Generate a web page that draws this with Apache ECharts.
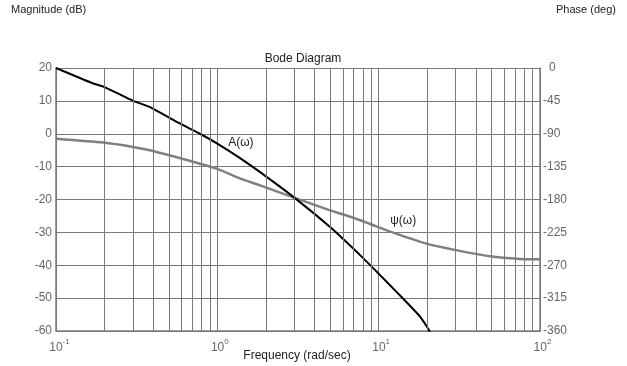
<!DOCTYPE html>
<html>
<head>
<meta charset="utf-8">
<script src="https://cdn.jsdelivr.net/npm/echarts@6/dist/echarts.min.js"></script>
<style>
  html, body { margin: 0; padding: 0; background: #fff; }
  #main { width: 627px; height: 366px; }
</style>
</head>
<body>
<div id="main"></div>
<script>
// magnitude curve A(w), dB
var magFreq = [0.1, 0.17, 0.2, 0.301, 0.383, 0.56, 0.78, 1.0, 1.39, 2.02, 2.96, 5.0, 8.04, 10.2, 12.9, 18.1, 20.8];
var magDb   = [20, 15.3, 14.2, 10.0, 8.1, 3.6, 0.0, -3.0, -7.5, -13.1, -19.2, -28.4, -37.9, -43, -48.1, -55.7, -60.2];
// phase curve psi(w), deg
var phaseFreq = [0.1, 0.196, 0.3, 0.383, 0.78, 1.0, 1.39, 1.84, 2.96, 5.0, 6.97, 8.85, 12.3, 19.8, 29.1, 49, 75, 100];
var phaseDeg  = [-96.7, -102, -108, -112.7, -131, -138, -151.4, -160.6, -177, -194.8, -205, -213.5, -225.3, -240.4, -248.6, -257.8, -261.5, -261.9];
// minor vertical grid lines of the log axis
var minorFreq = [0.2, 0.3, 0.4, 0.5, 0.6, 0.7, 0.8, 0.9, 2, 3, 4, 5, 6, 7, 8, 9, 20, 30, 40, 50, 60, 70, 80, 90];
var expLabels = { '0.1': '-1', '1': '0', '10': '1', '100': '2' };

var gridColor = '#7a7a7a';
var labelColor = '#666';
var font = 'Liberation Sans, Arial, sans-serif';

function pairs(xs, ys) {
  return xs.map(function(x, i) { return [x, ys[i]]; });
}

var myChart = echarts.init(document.getElementById('main'));
var option = {
  animation: false,
  textStyle: { fontFamily: font },
  title: [
    {
      text: 'Bode Diagram',
      left: 298, top: 48, textAlign: 'center',
      textStyle: { fontSize: 12, fontWeight: 'normal', color: '#222', fontFamily: font }
    },
    {
      // x axis name, placed as a title so the label rich text does not push it
      text: 'Frequency (rad/sec)',
      left: 292, top: 345, textAlign: 'center',
      textStyle: { fontSize: 12, fontWeight: 'normal', color: '#222', fontFamily: font }
    }
  ],
  grid: { left: 56, right: 87, top: 68, bottom: 35, outerBoundsMode: 'none', containLabel: false },
  xAxis: {
    type: 'log', logBase: 10, min: 0.1, max: 100,
    axisLine: { show: true, onZero: false, lineStyle: { color: gridColor, width: 1.5 } },
    axisTick: { show: false },
    splitLine: { show: true, lineStyle: { color: gridColor, width: 1 } },
    axisLabel: {
      margin: 2,
      formatter: function(v) {
        var e = expLabels[String(+v.toPrecision(3))];
        return '{' + (e.length > 1 ? 'b2' : 'b1') + '|10}{s|' + e + '}';
      },
      rich: {
        b1: { fontSize: 12, color: labelColor, fontFamily: font, padding: [9, 0, 0, 5] },
        b2: { fontSize: 12, color: labelColor, fontFamily: font, padding: [9, 0, 0, 7] },
        s: { fontSize: 8, color: labelColor, fontFamily: font, padding: [0, 0, 4, 0] }
      }
    }
  },
  yAxis: [
    {
      type: 'value', min: -60, max: 20, interval: 10,
      name: 'Magnitude (dB)', nameLocation: 'end',
      nameTextStyle: { fontSize: 11, color: '#222', align: 'left', padding: [0, 0, 38, -45], fontFamily: font },
      axisLine: { show: true, lineStyle: { color: gridColor, width: 1.5 } },
      axisTick: { show: false },
      splitLine: { show: true, lineStyle: { color: gridColor, width: 1 } },
      axisLabel: { fontSize: 12, color: labelColor, margin: 4, fontFamily: font }
    },
    {
      type: 'value', min: -360, max: 0, interval: 45, position: 'right',
      name: 'Phase (deg)', nameLocation: 'end',
      nameTextStyle: { fontSize: 11, color: '#222', align: 'left', padding: [0, 0, 38, 16], fontFamily: font },
      axisLine: { show: true, lineStyle: { color: gridColor, width: 1.5 } },
      axisTick: { show: false },
      splitLine: { show: false },
      axisLabel: {
        fontSize: 12, color: labelColor, margin: 3, fontFamily: font,
        formatter: function(v) { return v === 0 ? '{z|0}' : String(v); },
        rich: { z: { fontSize: 12, color: labelColor, fontFamily: font, padding: [0, 0, 0, 6] } }
      }
    }
  ],
  series: [
    {
      name: 'grid', type: 'line', z: 1, silent: true,
      data: [[0.1, -60]], showSymbol: false, lineStyle: { opacity: 0 },
      markLine: {
        silent: true, symbol: 'none', label: { show: false },
        lineStyle: { color: gridColor, width: 1, type: 'solid' },
        data: minorFreq.map(function(f) { return { xAxis: f }; })
      }
    },
    {
      name: 'psi', type: 'line', yAxisIndex: 1, z: 3,
      data: pairs(phaseFreq, phaseDeg), showSymbol: false, smooth: 0.2,
      lineStyle: { color: '#808080', width: 2.5 },
      markPoint: {
        symbolSize: 0,
        label: { show: true, formatter: 'ψ(ω)', fontSize: 12, color: '#222', fontFamily: font },
        data: [{ coord: [14.2, -208.5] }]
      }
    },
    {
      name: 'A', type: 'line', z: 4,
      data: pairs(magFreq, magDb), showSymbol: false, smooth: 0.2,
      lineStyle: { color: '#000', width: 2 },
      markPoint: {
        symbolSize: 0,
        label: { show: true, formatter: 'A(ω)', fontSize: 12, color: '#222', fontFamily: font },
        data: [{ coord: [1.4, -2.6] }]
      }
    }
  ]
};
myChart.setOption(option);
</script>
</body>
</html>
